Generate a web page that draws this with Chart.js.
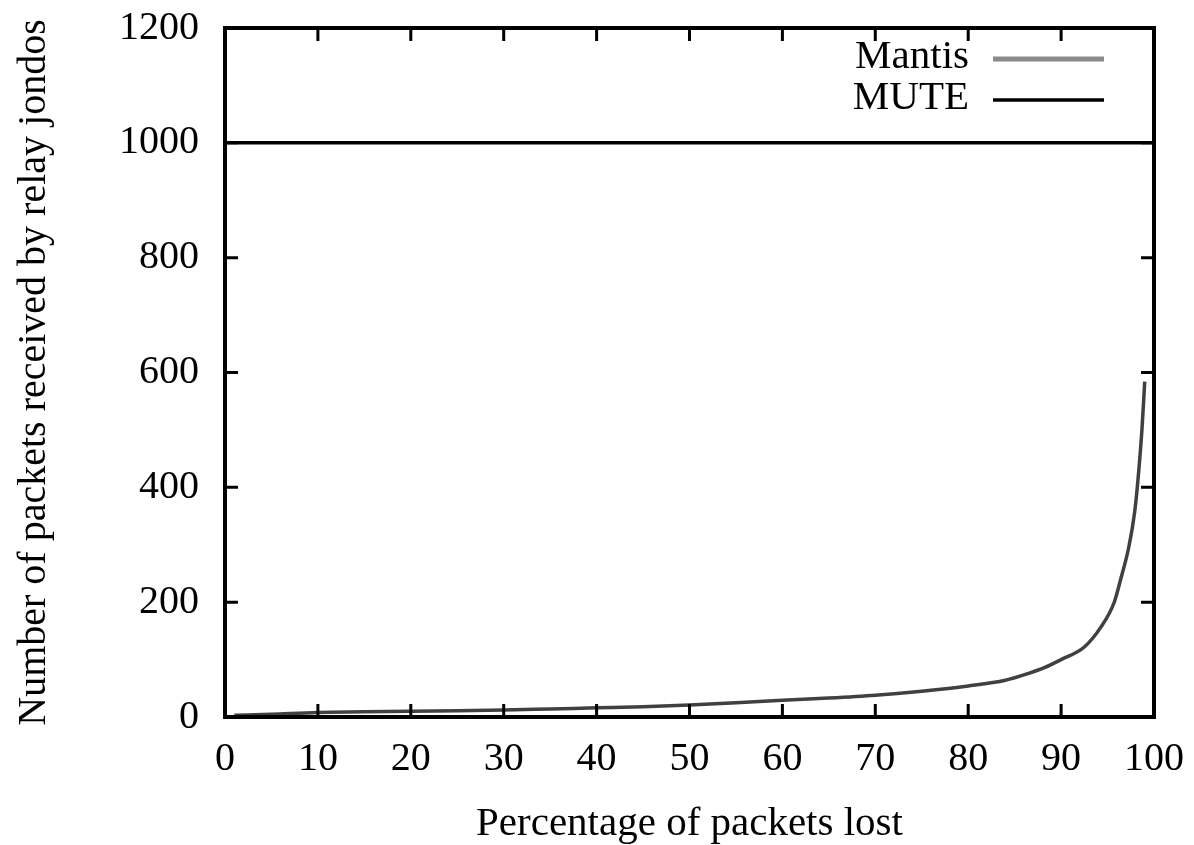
<!DOCTYPE html>
<html>
<head>
<meta charset="utf-8">
<script src="https://cdn.jsdelivr.net/npm/chart.js@4/dist/chart.umd.min.js"></script>
<style>
  html, body { margin: 0; padding: 0; background: #fff; }
  #wrap { width: 1194px; height: 845px; position: relative; }
</style>
</head>
<body>
<div id="wrap"><canvas id="chart_canvas"></canvas></div>
<script>
// Mantis curve
const lossPct = [1, 5, 10, 15, 20, 25, 30, 35, 40, 45, 50, 55, 60, 65, 70, 75, 80, 84, 86.5, 88.2, 90, 92.5, 94.3, 95.7, 96.4, 97.3, 97.9, 98.2, 98.7, 99];
const mantisPackets = [3, 5, 8, 9, 10, 11, 12, 14, 16, 18, 21, 25, 29, 33, 38, 45, 54, 64, 76, 86, 100, 122, 157, 199, 239, 297, 355, 400, 500, 584];
// MUTE is flat
const mutePct = [0, 100];
const mutePackets = [1000, 1000];

const seriesNames = ["Mantis", "MUTE"];
const xTitle = "Percentage of packets lost";
const yTitle = "Number of packets received by relay jondos";

const serif = '"Liberation Serif", "DejaVu Serif", serif';
Chart.defaults.font.family = serif;
Chart.defaults.color = '#000';

function toPoints(xs, ys) {
    return xs.map((x, i) => ({ x: x, y: ys[i] }));
}

// gnuplot style frame with inward ticks on all sides
const framePlugin = {
    id: 'frame',
    afterDraw(chart) {
        const ctx = chart.ctx;
        const a = chart.chartArea;
        const xs = chart.scales.x, ys = chart.scales.y;
        const tl = 13;
        ctx.save();
        ctx.strokeStyle = '#000';
        ctx.lineWidth = 3;
        ctx.beginPath();
        xs.ticks.forEach(t => {
            const px = xs.getPixelForValue(t.value);
            ctx.moveTo(px, a.bottom); ctx.lineTo(px, a.bottom - tl);
            ctx.moveTo(px, a.top); ctx.lineTo(px, a.top + tl);
        });
        ys.ticks.forEach(t => {
            const py = ys.getPixelForValue(t.value);
            ctx.moveTo(a.left, py); ctx.lineTo(a.left + tl, py);
            ctx.moveTo(a.right, py); ctx.lineTo(a.right - tl, py);
        });
        ctx.stroke();
        ctx.lineWidth = 4;
        ctx.strokeRect(a.left, a.top, a.right - a.left, a.bottom - a.top);
        ctx.restore();
    }
};

// key in the top right corner, text left of the sample line
const keyPlugin = {
    id: 'key',
    afterDatasetsDraw(chart) {
        const ctx = chart.ctx;
        const a = chart.chartArea;
        const keyColors = ['#8a8a8a', '#000'];
        const keyWidths = [5, 3.5];
        ctx.save();
        ctx.font = '41px ' + serif;
        ctx.textAlign = 'right';
        ctx.textBaseline = 'middle';
        chart.data.datasets.forEach((ds, i) => {
            const y = a.top + 31 + i * 41;
            ctx.fillStyle = '#000';
            ctx.fillText(ds.label, a.right - 185, y - 2);
            ctx.strokeStyle = keyColors[i];
            ctx.lineWidth = keyWidths[i];
            ctx.beginPath();
            ctx.moveTo(a.right - 161, y);
            ctx.lineTo(a.right - 50, y);
            ctx.stroke();
        });
        ctx.restore();
    }
};

new Chart(document.getElementById('chart_canvas'), {
    type: 'line',
    data: {
        datasets: [
            {
                label: seriesNames[0],
                data: toPoints(lossPct, mantisPackets),
                borderColor: '#404040',
                borderWidth: 3.5,
                pointRadius: 0,
                cubicInterpolationMode: 'monotone',
                fill: false
            },
            {
                label: seriesNames[1],
                data: toPoints(mutePct, mutePackets),
                borderColor: '#000',
                borderWidth: 3.5,
                pointRadius: 0,
                fill: false
            }
        ]
    },
    options: {
        responsive: true,
        maintainAspectRatio: false,
        devicePixelRatio: 1,
        animation: false,
        layout: { padding: { top: 28, right: 40, left: 0, bottom: 0 } },
        plugins: {
            legend: { display: false },
            tooltip: { enabled: false }
        },
        scales: {
            x: {
                type: 'linear',
                min: 0,
                max: 100,
                ticks: { stepSize: 10, padding: 18, font: { size: 40 }, maxRotation: 0, callback: (v) => String(v) },
                grid: { display: false, drawTicks: false },
                border: { display: false },
                title: { display: true, text: xTitle, font: { size: 41, lineHeight: 1 }, padding: 0 },
                afterFit: (scale) => {
                    scale.height = 128;
                    scale.paddingLeft = 0;
                    scale.paddingRight = 0;
                }
            },
            y: {
                type: 'linear',
                min: 0,
                max: 1200,
                ticks: { stepSize: 200, padding: 26, font: { size: 40 }, callback: (v) => String(v) },
                grid: { display: false, drawTicks: false },
                border: { display: false },
                title: { display: true, text: yTitle, font: { size: 40, lineHeight: 1 }, padding: { top: 14, bottom: 0 } },
                afterFit: (scale) => {
                    scale.width = 225;
                    scale.paddingTop = 0;
                    scale.paddingBottom = 0;
                }
            }
        }
    },
    plugins: [framePlugin, keyPlugin]
});
</script>
</body>
</html>
